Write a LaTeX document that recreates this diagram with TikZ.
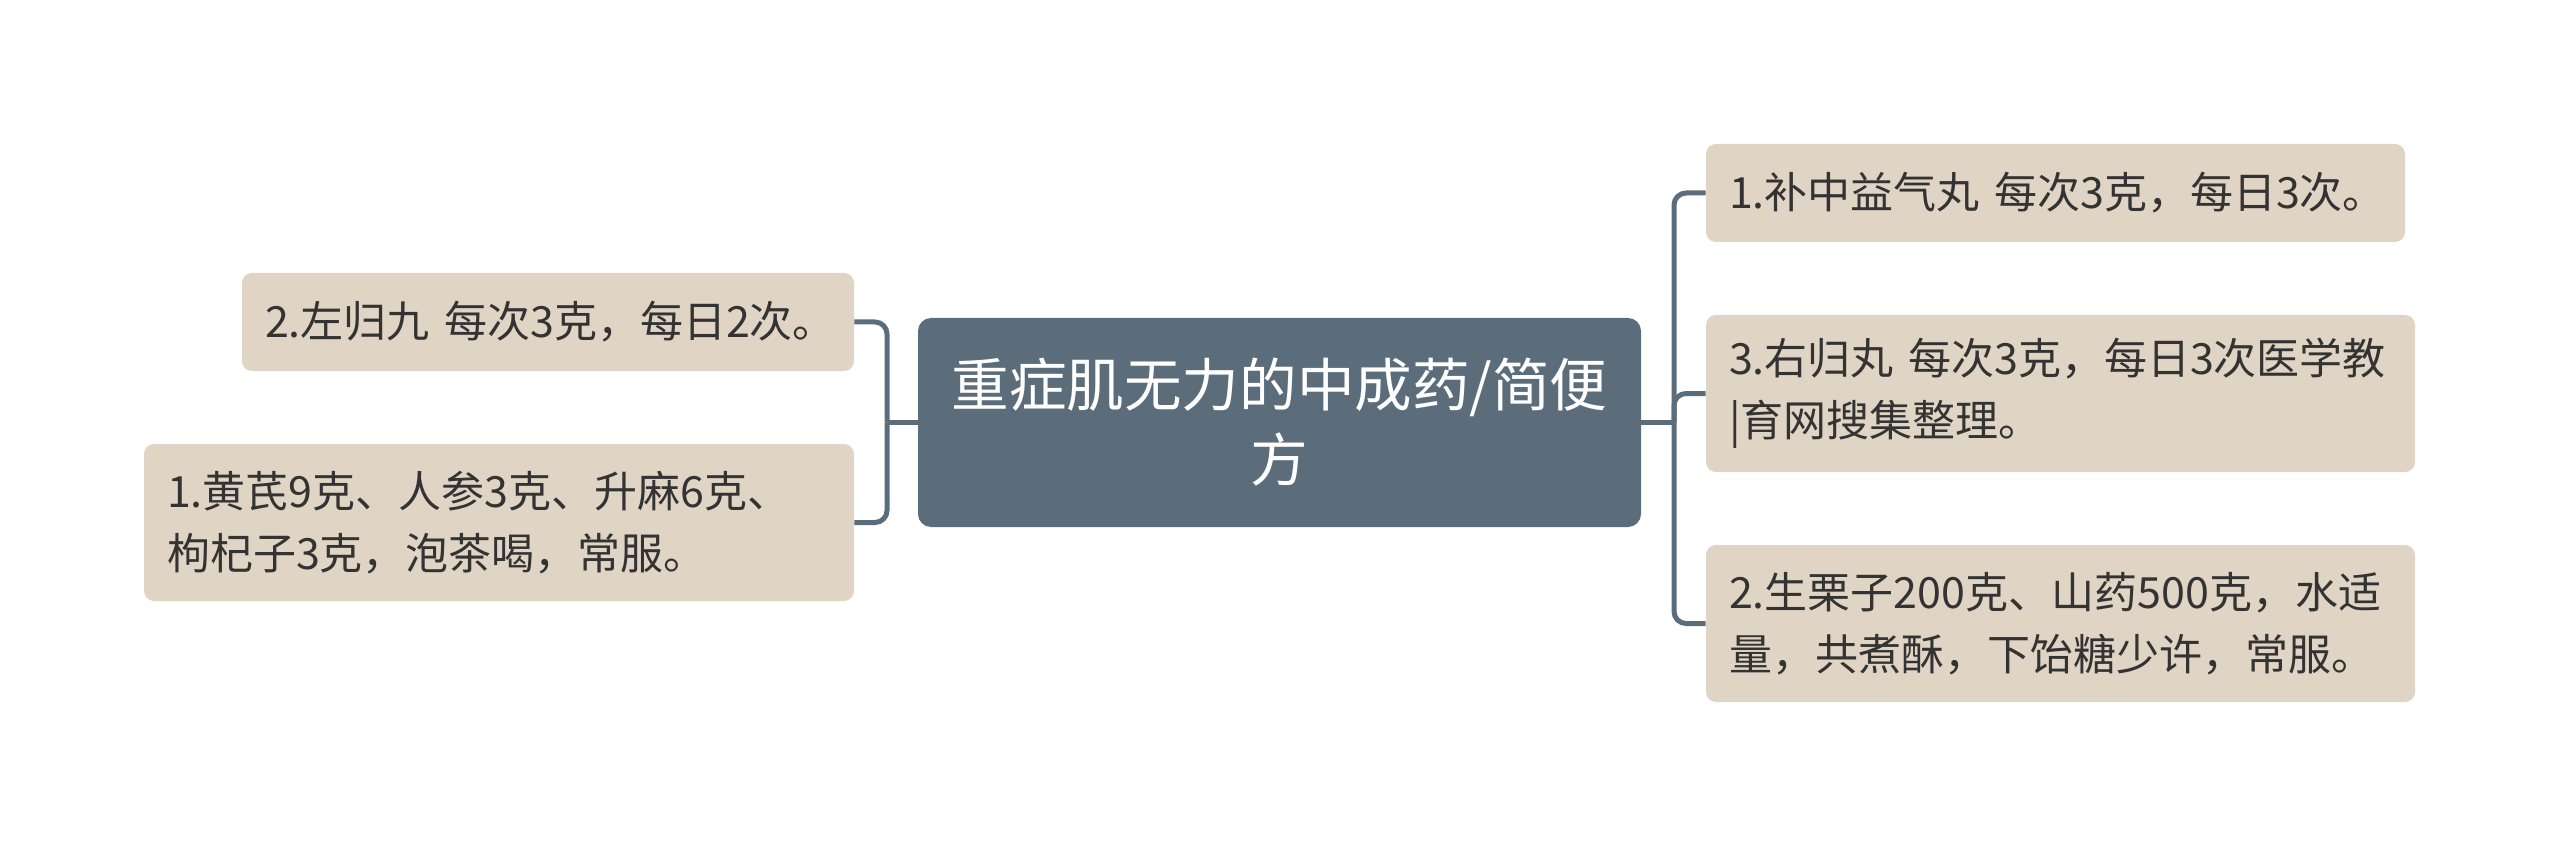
\documentclass[tikz,border=0pt]{standalone}
\usepackage{fontspec}
\setmainfont{Noto Sans CJK SC}
\definecolor{slate}{HTML}{5B6D7A}
\definecolor{beige}{HTML}{E0D5C4}
\definecolor{ink}{HTML}{333333}
\tikzset{
  leaf/.style={rectangle, rounded corners=5pt, fill=beige, text=ink,
    font=\fontsize{21.5}{31}\selectfont, align=left, inner xsep=11.5pt, inner ysep=0pt},
  root/.style={rectangle, rounded corners=6.5pt, fill=slate, text=white,
    font=\fontsize{28.8}{37.5}\selectfont, align=center, inner sep=0pt},
  conn/.style={draw=slate, line width=2.5pt, rounded corners=6pt}
}
\begin{document}
\begin{tikzpicture}[x=0.5pt,y=-0.5pt]
\useasboundingbox (0,0) rectangle (2560,845);
\node[root, minimum width=361.5pt, minimum height=104.5pt] (C) at (1279.5,422.5)
  {重症肌无力的中成药/简便\\方};
\node[leaf, minimum width=306pt, minimum height=49pt, text width=283pt] (L1) at (548,322)
  {2.左归九~每次3克，每日2次。};
\node[leaf, minimum width=355pt, minimum height=78.5pt, text width=332pt] (L2) at (499,522.5)
  {1.黄芪9克、人参3克、升麻6克、\\枸杞子3克，泡茶喝，常服。};
\node[leaf, minimum width=349.5pt, minimum height=49pt, text width=326.5pt] (R1) at (2055.5,193)
  {1.补中益气丸~每次3克，每日3次。};
\node[leaf, minimum width=354.5pt, minimum height=78.5pt, text width=331.5pt] (R2) at (2060.5,393.5)
  {3.右归丸~每次3克，每日3次医学教\\|育网搜集整理。};
\node[leaf, minimum width=354.5pt, minimum height=78.5pt, text width=331.5pt] (R3) at (2060.5,623.5)
  {2.生栗子200克、山药500克，水适\\量，共煮酥，下饴糖少许，常服。};
\coordinate (lj) at (887,422.5);
\coordinate (rj) at (1674,422.5);
\draw[conn] (C.west) -- (lj);
\draw[conn] (lj) |- (L1.east);
\draw[conn] (lj) |- (L2.east);
\draw[conn] (C.east) -- (rj);
\draw[conn] (rj) |- (R1.west);
\draw[conn] (rj) |- (R2.west);
\draw[conn] (rj) |- (R3.west);
\end{tikzpicture}
\end{document}
